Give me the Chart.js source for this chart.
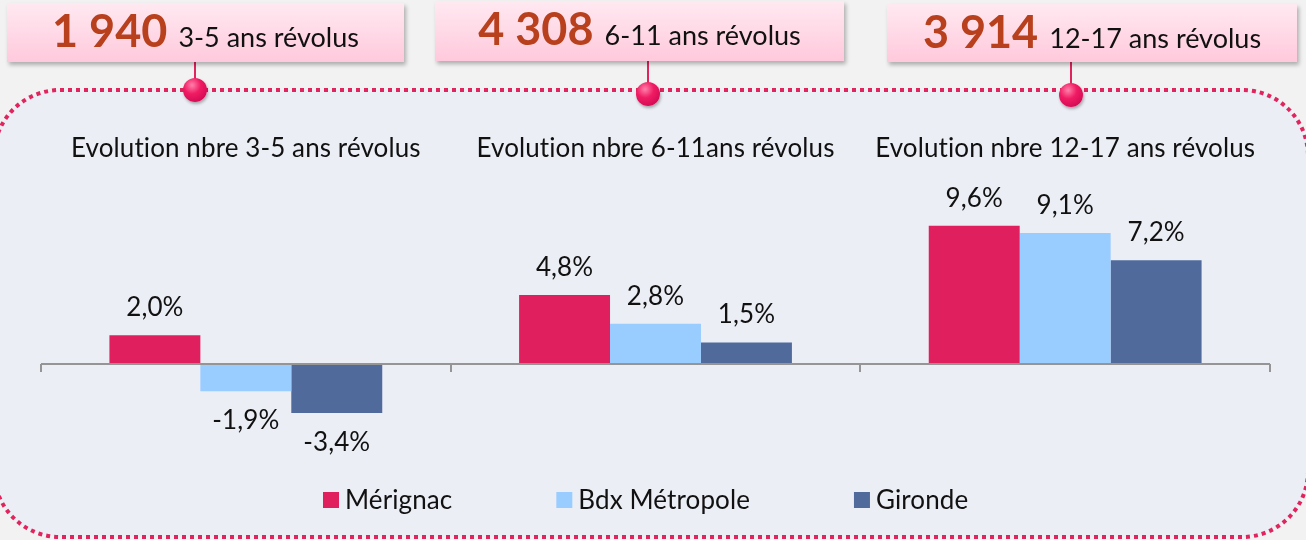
<!DOCTYPE html>
<html>
<head>
<meta charset="utf-8">
<script src="https://cdn.jsdelivr.net/npm/chart.js@4.4.1/dist/chart.umd.min.js"></script>
<style>
  body { margin:0; width:1306px; height:540px; overflow:hidden; position:relative; background:#f2f2f2; font-family: Lato, "Noto Sans", sans-serif; }
  #frame, #wrap { position:absolute; left:0; top:0; }
  .box { position:absolute; display:flex; justify-content:center; align-items:baseline; gap:11px; box-sizing:border-box; padding-top:5px;
         background:linear-gradient(#ffe9f1, #ffc9dc); box-shadow:2px 3px 4px rgba(0,0,0,0.28); font-variant-ligatures:none; }
  .box .num { font-weight:bold; font-size:45px; line-height:44px; color:#b8401d; }
  .box .lbl { font-size:27px; line-height:44px; color:#111; }
  .stick { position:absolute; width:2px; background:#e0245e; }
  .pin { position:absolute; width:24px; height:24px; border-radius:50%;
         background:radial-gradient(circle at 38% 30%, #ff80aa 0%, #f01c64 38%, #c4004a 100%);
         box-shadow:1px 2px 3px rgba(0,0,0,0.3); }
</style>
</head>
<body>
<svg id="frame" width="1306" height="540">
  <rect x="-6" y="90" width="1314" height="447" rx="66" ry="66" fill="#eceef6"
        stroke="#e0245e" stroke-width="4" stroke-dasharray="4 4"/>
</svg>
<div id="wrap"><canvas id="myChart" width="1306" height="540"></canvas></div>
<div id="boxes"></div>
<script>
// data
const categories = ["Evolution nbre 3-5 ans révolus", "Evolution nbre 6-11ans révolus", "Evolution nbre 12-17 ans révolus"];
const merignac = [2.0, 4.8, 9.6];
const bdxMetropole = [-1.9, 2.8, 9.1];
const gironde = [-3.4, 1.5, 7.2];
const seriesNames = ["Mérignac", "Bdx Métropole", "Gironde"];

const headCounts = ["1 940", "4 308", "3 914"];
const headLabels = ["3-5 ans révolus", "6-11 ans révolus", "12-17 ans révolus"];

// header boxes (left, top, width, height, pinX, pinY)
const boxPos = [[7, 3, 397, 59, 195, 90], [435, 1, 409, 60, 648, 94], [887, 4, 410, 58, 1071, 95]];
let html = "";
for (let i = 0; i < headCounts.length; i++) {
  const b = boxPos[i];
  html += '<div class="stick" style="left:' + (b[4] - 1) + 'px;top:' + (b[1] + b[3]) + 'px;height:' + (b[5] - b[1] - b[3]) + 'px"></div>';
  html += '<div class="pin" style="left:' + (b[4] - 12) + 'px;top:' + (b[5] - 12) + 'px"></div>';
  html += '<div class="box" style="left:' + b[0] + 'px;top:' + b[1] + 'px;width:' + b[2] + 'px;height:' + b[3] + 'px">' +
          '<span class="num">' + headCounts[i] + '</span><span class="lbl">' + headLabels[i] + '</span></div>';
}
document.getElementById("boxes").innerHTML = html;

const FONT = 'Lato, "Noto Sans", sans-serif';

function fmt(v){
  return v.toFixed(1).replace(".", ",") + "%";
}

const decorations = {
  id: "decorations",
  afterDatasetsDraw(chart){
    const ctx = chart.ctx;
    const x = chart.scales.x, y = chart.scales.y;
    const y0 = y.getPixelForValue(0);
    const n = chart.data.labels.length;
    const step = (x.right - x.left) / n;
    ctx.save();
    // axis line + tick marks between groups
    ctx.strokeStyle = "#959595";
    ctx.lineWidth = 2;
    ctx.beginPath();
    ctx.moveTo(x.left, y0);
    ctx.lineTo(x.right, y0);
    for (let i = 0; i <= n; i++) {
      const tx = Math.round(x.left + i * step);
      ctx.moveTo(tx, y0);
      ctx.lineTo(tx, y0 + 8);
    }
    ctx.stroke();

    // group titles (letterSpacing keeps "ti" from turning into a ligature)
    ctx.letterSpacing = "0.1px";
    ctx.fillStyle = "#111";
    ctx.font = "26px " + FONT;
    ctx.textAlign = "center";
    ctx.textBaseline = "middle";
    chart.data.labels.forEach(function(l, i){
      ctx.fillText(l, x.getPixelForValue(i), 149);
    });

    // value labels
    ctx.textBaseline = "alphabetic";
    chart.data.datasets.forEach(function(ds, di){
      const meta = chart.getDatasetMeta(di);
      meta.data.forEach(function(bar, i){
        const v = ds.data[i];
        const ty = v >= 0 ? bar.y - 19 : bar.y + 38;
        ctx.fillText(fmt(v), bar.x, ty);
      });
    });

    // legend
    let lx = 323;
    const ly = 500;
    chart.data.datasets.forEach(function(ds){
      ctx.fillStyle = ds.backgroundColor;
      ctx.fillRect(lx, ly - 8, 16, 16);
      ctx.fillStyle = "#111";
      ctx.textAlign = "left";
      ctx.textBaseline = "middle";
      ctx.fillText(ds.label, lx + 22, ly + 1);
      lx += 22 + ctx.measureText(ds.label).width + 104;
    });
    ctx.restore();
  }
};

new Chart(document.getElementById("myChart"), {
  type: "bar",
  data: {
    labels: categories,
    datasets: [{
      label: seriesNames[0],
      data: merignac,
      backgroundColor: "#e0205e"
    }, {
      label: seriesNames[1],
      data: bdxMetropole,
      backgroundColor: "#99ccff"
    }, {
      label: seriesNames[2],
      data: gironde,
      backgroundColor: "#4f6a9b"
    }]
  },
  options: {
    responsive: false,
    animation: false,
    layout: { padding: { left: 41, right: 36, top: 191.2, bottom: 104 } },
    categoryPercentage: 0.666,
    barPercentage: 1,
    scales: {
      x: { display: false },
      y: { display: false, min: -5, max: 12 }
    },
    plugins: {
      legend: { display: false },
      tooltip: { enabled: false }
    }
  },
  plugins: [decorations]
});
</script>
</body>
</html>
